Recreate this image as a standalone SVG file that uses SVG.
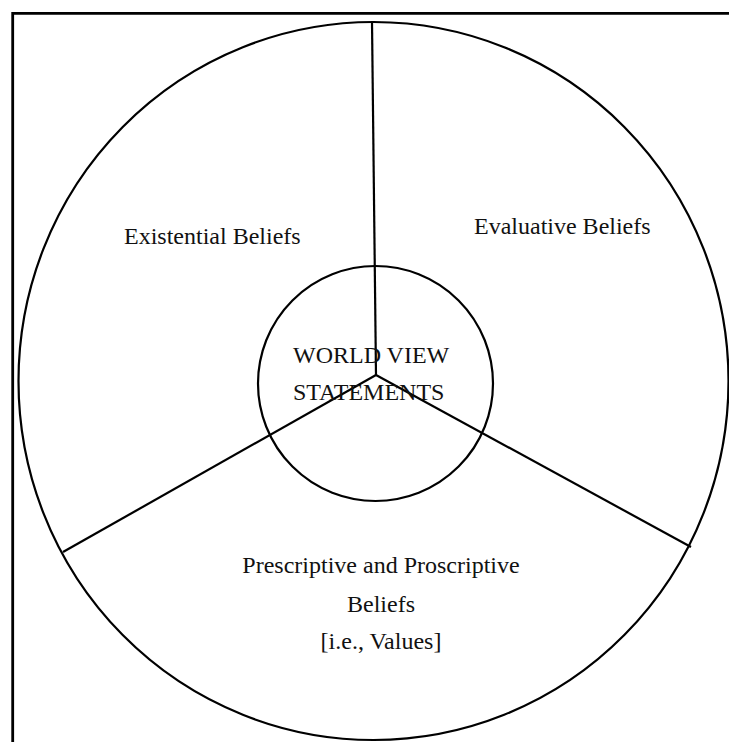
<svg xmlns="http://www.w3.org/2000/svg" width="729" height="742" viewBox="0 0 729 742">
<style>
.ln{fill:none;stroke:#000;stroke-width:2.2}
.t{font-family:"Liberation Serif","Times New Roman",serif;font-size:24px;fill:#111}
</style>
<rect x="0" y="0" width="729" height="742" fill="#fff"/>
<path class="ln" d="M12.7,742 V13.3 H729" stroke-width="2.8" style="stroke-width:2.8"/>
<g id="outer">
<ellipse class="ln" cx="373.5" cy="381" rx="355" ry="359"/>
</g>
<g id="connectors">
<line class="ln" x1="372" y1="22" x2="376" y2="375"/>
<line class="ln" x1="376" y1="375" x2="63" y2="552"/>
<line class="ln" x1="376" y1="375" x2="691" y2="547"/>
</g>
<g id="center">
<circle class="ln" cx="375.5" cy="383.5" r="117.5"/>
<text class="t" x="293" y="363">WORLD VIEW</text>
<text class="t" x="293" y="400">STATEMENTS</text>
</g>
<g id="existential">
<text class="t" x="124" y="244">Existential Beliefs</text>
</g>
<g id="evaluative">
<text class="t" x="474" y="234">Evaluative Beliefs</text>
</g>
<g id="prescriptive">
<text class="t" x="381" y="573" text-anchor="middle">Prescriptive and Proscriptive</text>
<text class="t" x="381" y="612" text-anchor="middle">Beliefs</text>
<text class="t" x="381" y="649" text-anchor="middle">[i.e., Values]</text>
</g>
</svg>
